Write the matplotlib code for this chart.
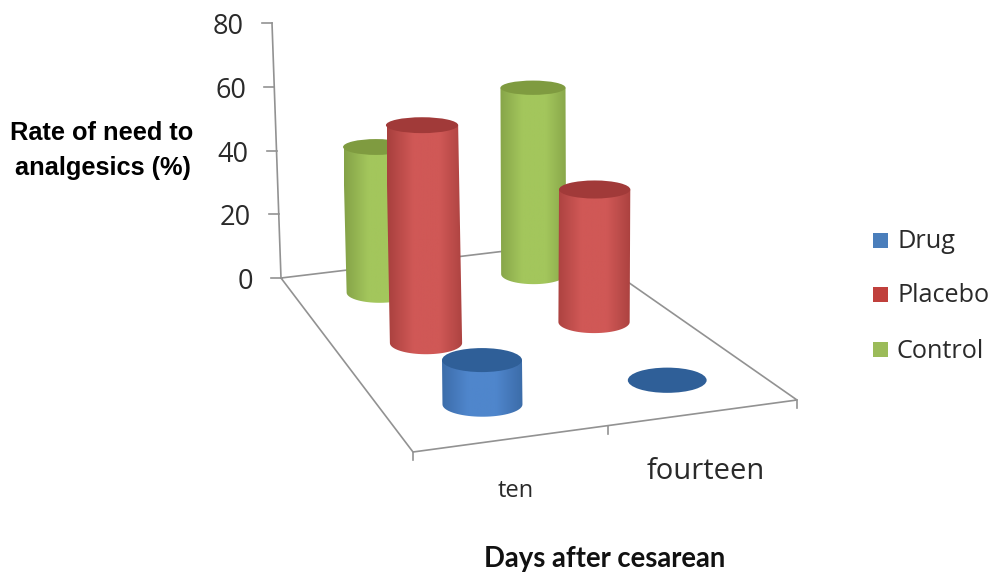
import numpy as np
import matplotlib
matplotlib.use("Agg")
import matplotlib.pyplot as plt
from matplotlib.patches import Ellipse, PathPatch, Rectangle
from matplotlib.path import Path

categories = ["ten", "fourteen"]
series = ["Drug", "Placebo", "Control"]
drug = [11, 0]
placebo = [60, 37]
control = [44, 57]
yticks = [0, 20, 40, 60, 80]

# side edge, side centre, top
colors = {
    "Drug": ("#3a6aa6", "#4f86cc", "#2f5f98"),
    "Placebo": ("#a8403e", "#d05856", "#a13a39"),
    "Control": ("#84a247", "#a3c65c", "#7f9b40"),
}
legend_colors = ["#4a7ebb", "#c0403c", "#9bbb59"]

FL, FR, BR, BL = (413, 452), (797, 400), (572, 243), (281, 278)
AXIS_TOP = (272, 23)


def make_floor():
    dx1, dx2, sx = FR[0] - BR[0], BL[0] - BR[0], FL[0] - FR[0] + BR[0] - BL[0]
    dy1, dy2, sy = FR[1] - BR[1], BL[1] - BR[1], FL[1] - FR[1] + BR[1] - BL[1]
    det = dx1 * dy2 - dx2 * dy1
    g = (sx * dy2 - dx2 * sy) / det
    h = (dx1 * sy - sx * dy1) / det
    a, b = FR[0] - FL[0] + g * FR[0], BL[0] - FL[0] + h * BL[0]
    d, e = FR[1] - FL[1] + g * FR[1], BL[1] - FL[1] + h * BL[1]

    def floor(u, v):
        w = 1 + g * u + h * v
        return (a * u + b * v + FL[0]) / w, (d * u + e * v + FL[1]) / w, w
    return floor


floor = make_floor()
_, _, w_back = floor(0, 1)
unit_back = (BL[1] - AXIS_TOP[1]) / 80 * w_back


def cylinder(ax, u, v, value, name, z):
    x, y, w = floor(u, v)
    x += 3 + 5 * u
    y += 1.5
    rx = 42.6 / w
    ry_base = rx * 0.31
    ry_top = rx * max(0.22, 0.32 - 0.0018 * value)
    h = value * unit_back / w
    top_x = x + (x - 560) * h * 0.000136
    top_y = y - h
    edge, mid, top = colors[name]
    if value > 0:
        # body: top half ellipse is covered by the cap, bottom half closes the base
        t = np.linspace(0, np.pi, 40)
        xs = np.concatenate([x + rx * np.cos(t), top_x - rx * np.cos(t)])
        ys = np.concatenate([y + ry_base * np.sin(t), top_y - 0 * t])
        verts = np.column_stack([xs, ys])
        clip = PathPatch(Path(np.vstack([verts, verts[0]])), fc="none", ec="none",
                         transform=ax.transData)
        ax.add_patch(clip)
        cmap = matplotlib.colors.LinearSegmentedColormap.from_list("c", [edge, mid, mid, edge])
        grad = np.linspace(0, 1, 128).reshape(1, -1)
        im = ax.imshow(grad, cmap=cmap, aspect="auto", zorder=z,
                       extent=(x - rx - 3, x + rx + 3, y + ry_base + 2, top_y - 2))
        im.set_clip_path(clip)
    ax.add_patch(Ellipse((top_x, top_y), 2 * rx, 2 * ry_top, fc=top, ec="none", zorder=z + 0.1))


fig = plt.figure(figsize=(9.94, 5.72), dpi=100)
ax = fig.add_axes([0, 0, 1, 1])

# floor and axis
axis_c = "#929292"
outline = [BL, BR, FR, FL, BL]
ax.plot([p[0] for p in outline], [p[1] for p in outline], color=axis_c, lw=1.2, zorder=1)
ax.plot([BL[0], AXIS_TOP[0]], [BL[1], AXIS_TOP[1]], color=axis_c, lw=1.2, zorder=1)
for t in yticks:
    tx = BL[0] + (AXIS_TOP[0] - BL[0]) * t / 80
    ty = BL[1] + (AXIS_TOP[1] - BL[1]) * t / 80
    ax.plot([tx - 10, tx], [ty, ty], color=axis_c, lw=1.2, zorder=1)
    ax.text(tx - 28, ty + 4, str(t), ha="right", va="center", fontsize=19.5,
            family="Open Sans", color="#2a2a2a")
for u in [0, 0.5, 1]:
    x, y, _ = floor(u, 0)
    ax.plot([x, x], [y, y + 8], color=axis_c, lw=1.2, zorder=1)

# columns, back row first
rows = [("Control", control, 5 / 6), ("Placebo", placebo, 3 / 6), ("Drug", drug, 1 / 6)]
z = 2
for name, vals, v in rows:
    for i, val in enumerate(vals):
        cylinder(ax, (i + 0.5) / len(categories), v, val, name, z)
        z += 1

# labels
label_off = [(4, 52), (3, 59)]
label_size = [17, 21]
for i, cat in enumerate(categories):
    x, y, _ = floor((i + 0.5) / len(categories), 0)
    ax.text(x + label_off[i][0], y + label_off[i][1], cat, ha="center", va="center",
            fontsize=label_size[i], family="Open Sans", color="#2a2a2a")

ax.text(605, 559, "Days after cesarean", ha="center", va="center", fontsize=19.8,
        family="Lato", weight="bold", color="#111111")
ax.text(193, 133, "Rate of need to", ha="right", va="center", fontsize=18.3,
        family="Liberation Sans", weight="bold", color="black")
ax.text(191, 168, "analgesics (%)", ha="right", va="center", fontsize=18.3,
        family="Liberation Sans", weight="bold", color="black")

# legend
for name, col, ly in zip(series, legend_colors, [241, 295, 350]):
    ax.add_patch(Rectangle((873, ly - 8), 15, 15, fc=col, ec="none"))
    ax.text(897, ly + 1, name, ha="left", va="center", fontsize=18.2, family="Open Sans",
            color="#2a2a2a")

ax.set_xlim(0, 994)
ax.set_ylim(572, 0)
ax.axis("off")
fig.savefig("out.png", dpi=100, facecolor="white")
